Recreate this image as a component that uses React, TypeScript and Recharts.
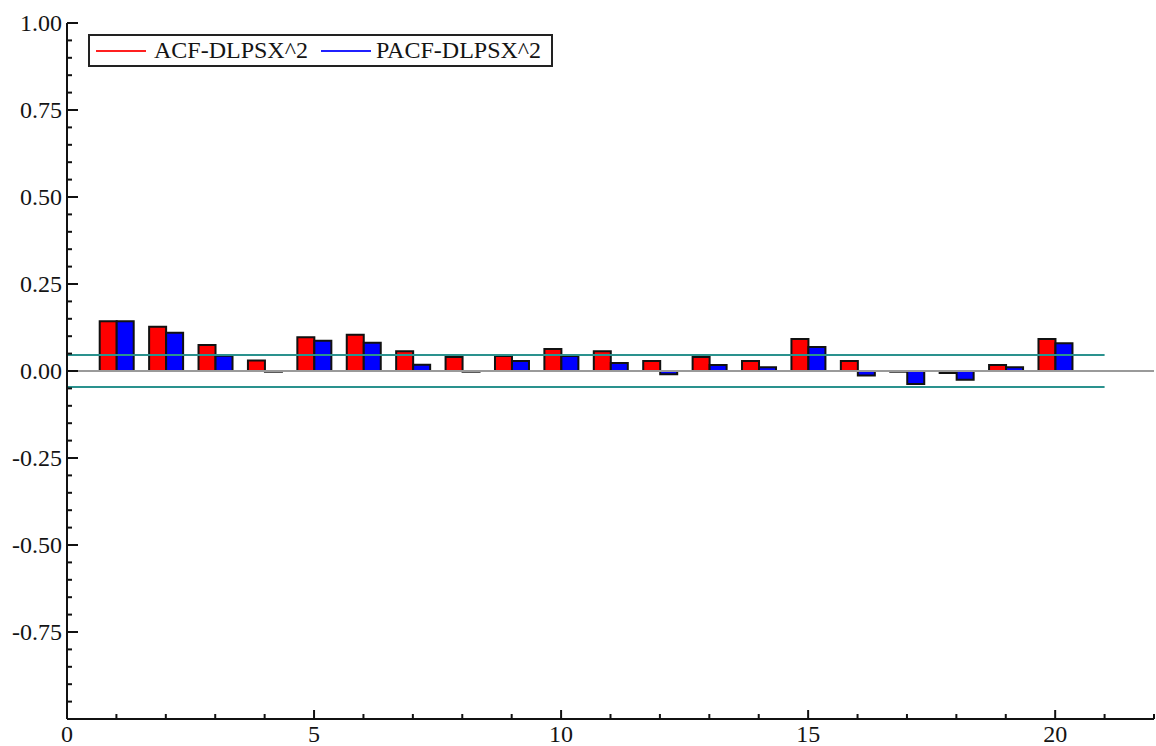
import React from "react";
import {
  ComposedChart,
  Bar,
  XAxis,
  YAxis,
  ReferenceLine,
  Legend,
} from "recharts";

// lags 1..20
const lags = [1, 2, 3, 4, 5, 6, 7, 8, 9, 10, 11, 12, 13, 14, 15, 16, 17, 18, 19, 20];
const acf = [
  0.143, 0.127, 0.075, 0.03, 0.097, 0.104, 0.057, 0.04, 0.043, 0.063,
  0.057, 0.029, 0.04, 0.029, 0.092, 0.029, -0.002, -0.006, 0.017, 0.092,
];
const pacf = [
  0.143, 0.11, 0.044, -0.002, 0.087, 0.081, 0.018, -0.002, 0.029, 0.043,
  0.023, -0.009, 0.017, 0.011, 0.069, -0.013, -0.037, -0.025, 0.011, 0.08,
];
const bound = 0.046;

const xMajor = [0, 5, 10, 15, 20];
const xTicks = [0, 1, 2, 3, 4, 5, 6, 7, 8, 9, 10, 11, 12, 13, 14, 15, 16, 17, 18, 19, 20, 21, 22];
const yMajor = [-1, -0.75, -0.5, -0.25, 0, 0.25, 0.5, 0.75, 1];
const yTicks: number[] = [];
for (let i = -20; i <= 20; i++) yTicks.push(i / 20);

const data = lags.map((lag, i) => ({ lag, acf: acf[i], pacf: pacf[i] }));

const FONT = "Liberation Serif, DejaVu Serif, serif";
const TEXT = "#141414";

const isMajorY = (v: number) => yMajor.some((m) => Math.abs(m - v) < 1e-6);

const YTick = (props: any) => {
  const { x, y, payload } = props;
  const v = payload.value as number;
  const major = isMajorY(v);
  return (
    <g>
      <line x1={x} x2={x + (major ? 11 : 5)} y1={y} y2={y} stroke="#111" strokeWidth={2} />
      {major && v > -0.99 && (
        <text
          x={x - 5}
          y={y}
          textAnchor="end"
          dominantBaseline="central"
          style={{ fontFamily: FONT, fontSize: 24 }}
          fill={TEXT}
        >
          {v.toFixed(2)}
        </text>
      )}
    </g>
  );
};

const XTick = (props: any) => {
  const { x, y, payload } = props;
  const v = payload.value as number;
  const major = xMajor.includes(v);
  return (
    <g>
      <line x1={x} x2={x} y1={y} y2={y - (major ? 9 : 5)} stroke="#111" strokeWidth={2} />
      {major && (
        <text x={x} y={y + 23} textAnchor="middle" style={{ fontFamily: FONT, fontSize: 24 }} fill={TEXT}>
          {v}
        </text>
      )}
    </g>
  );
};

const LegendBox = () => (
  <div
    style={{
      display: "flex",
      alignItems: "center",
      border: "2px solid #222",
      background: "#fff",
      height: 29,
      width: 461,
      boxSizing: "content-box",
      fontFamily: FONT,
      fontSize: 24,
      color: TEXT,
      lineHeight: "29px",
      whiteSpace: "nowrap",
    }}
  >
    <span style={{ display: "inline-block", width: 50, height: 2, background: "#ff2020", marginLeft: 6 }} />
    <span style={{ marginLeft: 8 }}>ACF-DLPSX^2</span>
    <span style={{ display: "inline-block", width: 50, height: 2, background: "#2020ff", marginLeft: 13 }} />
    <span style={{ marginLeft: 5 }}>PACF-DLPSX^2</span>
  </div>
);

export default function App() {
  return (
    <div style={{ position: "absolute", left: 0, top: 0, background: "#fff", fontFamily: FONT }}>
      <ComposedChart
        width={1156}
        height={746}
        data={data}
        margin={{ top: 23, right: 2, bottom: 0, left: 0 }}
        barGap={0}
        barSize={17}
      >
        <XAxis
          dataKey="lag"
          type="number"
          domain={[0, 22]}
          ticks={xTicks}
          interval={0}
          height={27}
          tickSize={0}
          tickMargin={0}
          tickLine={false}
          axisLine={{ stroke: "#111", strokeWidth: 2 }}
          tick={<XTick />}
          allowDataOverflow
        />
        <YAxis
          type="number"
          domain={[-1, 1]}
          ticks={yTicks}
          interval={0}
          width={67}
          tickSize={0}
          tickMargin={0}
          tickLine={false}
          axisLine={{ stroke: "#111", strokeWidth: 2 }}
          tick={<YTick />}
          allowDataOverflow
        />
        <ReferenceLine
          segment={[
            { x: 0, y: 0 },
            { x: 22, y: 0 },
          ]}
          stroke="#9a9a9a"
          strokeWidth={2}
        />
        <Bar dataKey="acf" name="ACF-DLPSX^2" fill="#ff0000" stroke="#111" strokeWidth={2} isAnimationActive={false} />
        <Bar dataKey="pacf" name="PACF-DLPSX^2" fill="#0000ff" stroke="#111" strokeWidth={2} isAnimationActive={false} />
        <ReferenceLine
          segment={[
            { x: 0, y: bound },
            { x: 21, y: bound },
          ]}
          stroke="#2a928e"
          strokeWidth={2}
        />
        <ReferenceLine
          segment={[
            { x: 0, y: -bound },
            { x: 21, y: -bound },
          ]}
          stroke="#2a928e"
          strokeWidth={2}
        />
        <Legend
          layout="horizontal"
          verticalAlign="middle"
          align="center"
          content={<LegendBox />}
          wrapperStyle={{ left: 88, top: 34, width: "auto", height: "auto" }}
        />
      </ComposedChart>
    </div>
  );
}
